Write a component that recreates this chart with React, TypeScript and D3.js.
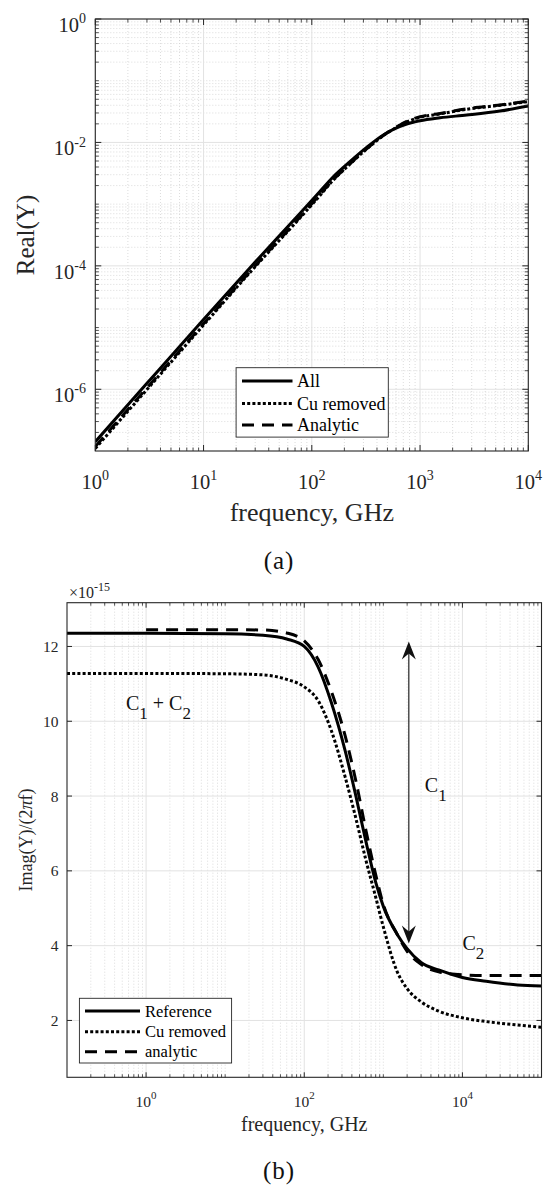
import React from 'react';
import * as d3 from 'd3';

// ---------- Panel (a): Real(Y) vs frequency (GHz) ----------
const realFreqGHz = [1, 3, 10, 30, 78, 111, 158, 225, 321, 458, 566, 753, 1000, 1530, 2700, 5480, 10000];
const realAll = [1.41e-7, 1.25e-6, 1.35e-5, 1.15e-4, 7.1e-4, 1.4e-3, 2.78e-3, 4.88e-3, 8.3e-3, 1.32e-2, 1.63e-2, 1.99e-2, 2.25e-2, 2.51e-2, 2.78e-2, 3.23e-2, 3.89e-2];
const realCuRemoved = [1.1e-7, 9.9e-7, 1.1e-5, 9.7e-5, 6.0e-4, 1.2e-3, 2.45e-3, 4.45e-3, 7.8e-3, 1.29e-2, 1.64e-2, 2.15e-2, 2.55e-2, 2.9e-2, 3.45e-2, 4.0e-2, 4.6e-2];
const realAnalytic = [1.18e-7, 1.05e-6, 1.15e-5, 1.0e-4, 6.2e-4, 1.25e-3, 2.5e-3, 4.5e-3, 7.9e-3, 1.3e-2, 1.65e-2, 2.2e-2, 2.6e-2, 2.95e-2, 3.5e-2, 4.05e-2, 4.7e-2];
const realXTickExp = [0, 1, 2, 3, 4];
const realYTickExp = [0, -2, -4, -6];
const realLegend = ['All', 'Cu removed', 'Analytic'];

// ---------- Panel (b): Imag(Y)/(2πf) (×1e-15) ----------
const imagFreqGHz = [0.1, 1, 10, 30, 60, 100, 150, 220, 330, 450, 600, 800, 1000, 1500, 2000, 3000, 5000, 10000, 20000, 50000, 100000];
const imagReference = [12.35, 12.35, 12.34, 12.3, 12.2, 12.0, 11.45, 10.5, 9.2, 8.0, 6.8, 5.7, 5.05, 4.3, 3.92, 3.55, 3.35, 3.15, 3.05, 2.95, 2.92];
const imagCuRemoved = [11.28, 11.28, 11.27, 11.24, 11.12, 10.92, 10.55, 9.75, 8.5, 7.4, 6.3, 5.3, 4.5, 3.3, 2.85, 2.5, 2.25, 2.07, 1.97, 1.88, 1.82];
const analyticFreqGHz = [1, 10, 30, 60, 100, 150, 220, 330, 450, 600, 800, 1000, 1500, 2000, 3000, 5000, 10000, 20000, 50000, 100000];
const imagAnalytic = [12.45, 12.45, 12.44, 12.36, 12.15, 11.65, 10.8, 9.6, 8.4, 7.1, 5.9, 5.1, 4.3, 3.85, 3.5, 3.3, 3.22, 3.2, 3.2, 3.2];
const imagXTickExp = [0, 2, 4];
const imagYTicks = [2, 4, 6, 8, 10, 12];
const imagLegend = ['Reference', 'Cu removed', 'analytic'];
// annotations (data coordinates)
const arrowFreq = 2100;
const arrowFrom = 12.13;
const arrowTo = 4.06;

const FONT = "'Liberation Serif', 'Times New Roman', Times, serif";
const AXIS = '#262626';
const MAJOR_GRID = '#e2e2e2';
const MINOR_GRID = '#cdcdcd';
const DOT = '3 2.2';
const DASH = '12 8';

function minorLogValues(d0: number, d1: number, skip: (v: number, m: number, d: number) => boolean) {
  const out: number[] = [];
  for (let d = d0; d <= d1; d++) {
    for (let m = 1; m <= 9; m++) {
      const v = m * Math.pow(10, d);
      if (!skip(v, m, d)) out.push(v);
    }
  }
  return out;
}

function Sup({ x, y, base, exp, size, supSize, rise, anchor }: any) {
  return (
    <text x={x} y={y} fontFamily={FONT} fontSize={size} fill={AXIS} textAnchor={anchor}>
      <tspan>{base}</tspan>
      <tspan dy={-rise} fontSize={supSize}>{exp}</tspan>
    </text>
  );
}

export default function App() {
  // Panel (a) scales
  const xA = d3.scaleLog().domain([1, 1e4]).range([95.3, 528.3]);
  const yA = d3.scaleLog().domain([1e-7, 1]).range([451, 19]);
  // Panel (b) scales
  const xB = d3.scaleLog().domain([0.1, 1e5]).range([67, 541.5]);
  const yB = d3.scaleLinear().domain([0.48, 13.17]).range([1077.3, 602.7]);

  const [aL, aR] = xA.range();
  const [aB, aT] = yA.range();
  const [bL, bR] = xB.range();
  const [bB, bT] = yB.range();

  const lineA = d3.line<[number, number]>().x(d => xA(d[0])).y(d => yA(d[1])).curve(d3.curveMonotoneX);
  const lineB = d3.line<[number, number]>().x(d => xB(d[0])).y(d => yB(d[1])).curve(d3.curveMonotoneX);

  const zip = (a: number[], b: number[]) => a.map((v, i) => [v, b[i]] as [number, number]);

  const aXMajor = realXTickExp.map(e => Math.pow(10, e));
  const aXMinor = minorLogValues(0, 3, (v, m) => m === 1);
  const aYMajor = realYTickExp.map(e => Math.pow(10, e));
  const aYMinor = minorLogValues(-7, -1, (v, m, d) => m === 1 && (d % 2 === 0 || d === -7));

  const bXMajor = imagXTickExp.map(e => Math.pow(10, e));
  const bXMinor = minorLogValues(-1, 4, (v, m, d) => (m === 1 && (d === -1 || d % 2 === 0)));

  const aLegendY = [381, 403.5, 425];
  const bLegendY = [1011, 1031.7, 1051.7];
  const styles = [
    { dash: undefined as string | undefined },
    { dash: DOT },
    { dash: DASH },
  ];

  return (
    <svg width={545} height={1187} style={{ position: 'absolute', left: 0, top: 0, background: '#fff' }}>
      <defs>
        <clipPath id="clipA"><rect x={aL} y={aT} width={aR - aL} height={aB - aT} /></clipPath>
        <clipPath id="clipB"><rect x={bL} y={bT} width={bR - bL} height={bB - bT} /></clipPath>
      </defs>
      <rect x={0} y={0} width={545} height={1187} fill="#fff" />

      {/* ===================== Panel (a) ===================== */}
      <g>
        {aXMinor.map((v, i) => (
          <line key={'axm' + i} x1={xA(v)} x2={xA(v)} y1={aT} y2={aB} stroke={MINOR_GRID} strokeWidth={0.7} strokeDasharray="1 2" />
        ))}
        {aYMinor.map((v, i) => (
          <line key={'aym' + i} x1={aL} x2={aR} y1={yA(v)} y2={yA(v)} stroke={MINOR_GRID} strokeWidth={0.7} strokeDasharray="1 2" />
        ))}
        {aXMajor.map((v, i) => (
          <line key={'axM' + i} x1={xA(v)} x2={xA(v)} y1={aT} y2={aB} stroke={MAJOR_GRID} strokeWidth={1} />
        ))}
        {aYMajor.map((v, i) => (
          <line key={'ayM' + i} x1={aL} x2={aR} y1={yA(v)} y2={yA(v)} stroke={MAJOR_GRID} strokeWidth={1} />
        ))}

        <g clipPath="url(#clipA)" fill="none" stroke="#000" strokeWidth={3}>
          <path d={lineA(zip(realFreqGHz, realAll)) || ''} />
          <path d={lineA(zip(realFreqGHz, realCuRemoved)) || ''} strokeDasharray={DOT} />
          <path d={lineA(zip(realFreqGHz, realAnalytic)) || ''} strokeDasharray={DASH} />
        </g>

        {aXMajor.map((v, i) => (
          <g key={'axt' + i} stroke={AXIS} strokeWidth={1}>
            <line x1={xA(v)} x2={xA(v)} y1={aB} y2={aB - 6} />
            <line x1={xA(v)} x2={xA(v)} y1={aT} y2={aT + 6} />
          </g>
        ))}
        {aXMinor.map((v, i) => (
          <g key={'axmt' + i} stroke={AXIS} strokeWidth={0.8}>
            <line x1={xA(v)} x2={xA(v)} y1={aB} y2={aB - 3.5} />
            <line x1={xA(v)} x2={xA(v)} y1={aT} y2={aT + 3.5} />
          </g>
        ))}
        {aYMajor.map((v, i) => (
          <g key={'ayt' + i} stroke={AXIS} strokeWidth={1}>
            <line x1={aL} x2={aL + 6} y1={yA(v)} y2={yA(v)} />
            <line x1={aR} x2={aR - 6} y1={yA(v)} y2={yA(v)} />
          </g>
        ))}
        {aYMinor.map((v, i) => (
          <g key={'aymt' + i} stroke={AXIS} strokeWidth={0.8}>
            <line x1={aL} x2={aL + 3.5} y1={yA(v)} y2={yA(v)} />
            <line x1={aR} x2={aR - 3.5} y1={yA(v)} y2={yA(v)} />
          </g>
        ))}
        <rect x={aL} y={aT} width={aR - aL} height={aB - aT} fill="none" stroke={AXIS} strokeWidth={1.1} />

        {realXTickExp.map((e, i) => (
          <Sup key={'axl' + i} x={xA(Math.pow(10, e))} y={489} base="10" exp={String(e)} size={20.5} supSize={14} rise={9.5} anchor="middle" />
        ))}
        {realYTickExp.map((e, i) => (
          <Sup key={'ayl' + i} x={86} y={yA(Math.pow(10, e)) + 12.7} base="10" exp={String(e)} size={20.5} supSize={14} rise={8.5} anchor="end" />
        ))}

        <text x={(aL + aR) / 2} y={521} textAnchor="middle" fontFamily={FONT} fontSize={26} fill={AXIS}>frequency, GHz</text>
        <text transform={`translate(34,${(aT + aB) / 2}) rotate(-90)`} textAnchor="middle" fontFamily={FONT} fontSize={25} fill={AXIS}>Real(Y)</text>
        <text x={279} y={569} textAnchor="middle" fontFamily={FONT} fontSize={25} letterSpacing={1} fill="#111">(a)</text>

        <rect x={236.1} y={367.7} width={152.2} height={69.4} fill="#fff" stroke={AXIS} strokeWidth={0.9} />
        {realLegend.map((name, i) => (
          <g key={'al' + i}>
            <line x1={242} x2={292.5} y1={aLegendY[i]} y2={aLegendY[i]} stroke="#000" strokeWidth={3} strokeDasharray={styles[i].dash} />
            <text x={297} y={aLegendY[i] + 6} fontFamily={FONT} fontSize={18} fill="#000">{name}</text>
          </g>
        ))}
      </g>

      {/* ===================== Panel (b) ===================== */}
      <g>
        {bXMinor.map((v, i) => (
          <line key={'bxm' + i} x1={xB(v)} x2={xB(v)} y1={bT} y2={bB} stroke={MINOR_GRID} strokeWidth={0.7} strokeDasharray="1 2" />
        ))}
        {bXMajor.map((v, i) => (
          <line key={'bxM' + i} x1={xB(v)} x2={xB(v)} y1={bT} y2={bB} stroke={MAJOR_GRID} strokeWidth={1} />
        ))}
        {imagYTicks.map((v, i) => (
          <line key={'byM' + i} x1={bL} x2={bR} y1={yB(v)} y2={yB(v)} stroke={MAJOR_GRID} strokeWidth={1} />
        ))}

        <g clipPath="url(#clipB)" fill="none" stroke="#000" strokeWidth={3}>
          <path d={lineB(zip(imagFreqGHz, imagReference)) || ''} />
          <path d={lineB(zip(imagFreqGHz, imagCuRemoved)) || ''} strokeDasharray={DOT} />
          <path d={lineB(zip(analyticFreqGHz, imagAnalytic)) || ''} strokeDasharray={DASH} />
        </g>

        {bXMajor.map((v, i) => (
          <g key={'bxt' + i} stroke={AXIS} strokeWidth={1}>
            <line x1={xB(v)} x2={xB(v)} y1={bB} y2={bB - 5} />
            <line x1={xB(v)} x2={xB(v)} y1={bT} y2={bT + 5} />
          </g>
        ))}
        {bXMinor.map((v, i) => (
          <g key={'bxmt' + i} stroke={AXIS} strokeWidth={0.8}>
            <line x1={xB(v)} x2={xB(v)} y1={bB} y2={bB - 3} />
            <line x1={xB(v)} x2={xB(v)} y1={bT} y2={bT + 3} />
          </g>
        ))}
        {imagYTicks.map((v, i) => (
          <g key={'byt' + i} stroke={AXIS} strokeWidth={1}>
            <line x1={bL} x2={bL + 5} y1={yB(v)} y2={yB(v)} />
            <line x1={bR} x2={bR - 5} y1={yB(v)} y2={yB(v)} />
          </g>
        ))}
        <rect x={bL} y={bT} width={bR - bL} height={bB - bT} fill="none" stroke={AXIS} strokeWidth={1.1} />

        {imagXTickExp.map((e, i) => (
          <Sup key={'bxl' + i} x={xB(Math.pow(10, e))} y={1106.7} base="10" exp={String(e)} size={15.5} supSize={11} rise={8} anchor="middle" />
        ))}
        {imagYTicks.map((v, i) => (
          <text key={'byl' + i} x={58.5} y={yB(v) + 5.5} textAnchor="end" fontFamily={FONT} fontSize={15.5} fill={AXIS}>{v}</text>
        ))}
        <Sup x={69} y={598} base="×10" exp="-15" size={16} supSize={12} rise={7} anchor="start" />

        <text x={(bL + bR) / 2} y={1131} textAnchor="middle" fontFamily={FONT} fontSize={20} fill={AXIS}>frequency, GHz</text>
        <text transform={`translate(32,${(bT + bB) / 2}) rotate(-90)`} textAnchor="middle" fontFamily={FONT} fontSize={18} fill={AXIS}>
          Imag(Y)/(2<tspan fontStyle="italic">π</tspan>f)
        </text>
        <text x={279} y={1179} textAnchor="middle" fontFamily={FONT} fontSize={25} letterSpacing={1} fill="#111">(b)</text>

        <text x={xB(0.557)} y={yB(10.3)} fontFamily={FONT} fontSize={20} fill="#111">
          C<tspan dy={9} fontSize={17}>1</tspan><tspan dy={-9}> + C</tspan><tspan dy={9} fontSize={17}>2</tspan>
        </text>
        <text x={xB(3344)} y={yB(8.11)} fontFamily={FONT} fontSize={20} fill="#111">
          C<tspan dy={9} fontSize={17}>1</tspan>
        </text>
        <text x={xB(10000)} y={yB(3.88)} fontFamily={FONT} fontSize={20} fill="#111">
          C<tspan dy={9} fontSize={17}>2</tspan>
        </text>
        {(() => {
          const ax = xB(arrowFreq);
          const y1 = yB(arrowFrom);
          const y2 = yB(arrowTo);
          return (
            <g>
              <line x1={ax} x2={ax} y1={y1 + 10} y2={y2 - 10} stroke="#222" strokeWidth={1.2} />
              <path d={`M${ax},${y1} L${ax - 7},${y1 + 18} L${ax},${y1 + 12} L${ax + 7},${y1 + 18} Z`} fill="#111" />
              <path d={`M${ax},${y2} L${ax - 7},${y2 - 18} L${ax},${y2 - 12} L${ax + 7},${y2 - 18} Z`} fill="#111" />
            </g>
          );
        })()}

        <rect x={79.4} y={998.3} width={152.2} height={64.7} fill="#fff" stroke={AXIS} strokeWidth={0.9} />
        {imagLegend.map((name, i) => (
          <g key={'bl' + i}>
            <line x1={85} x2={140} y1={bLegendY[i]} y2={bLegendY[i]} stroke="#000" strokeWidth={3} strokeDasharray={styles[i].dash} />
            <text x={145} y={bLegendY[i] + 5.5} fontFamily={FONT} fontSize={16.5} fill="#000">{name}</text>
          </g>
        ))}
      </g>
    </svg>
  );
}
